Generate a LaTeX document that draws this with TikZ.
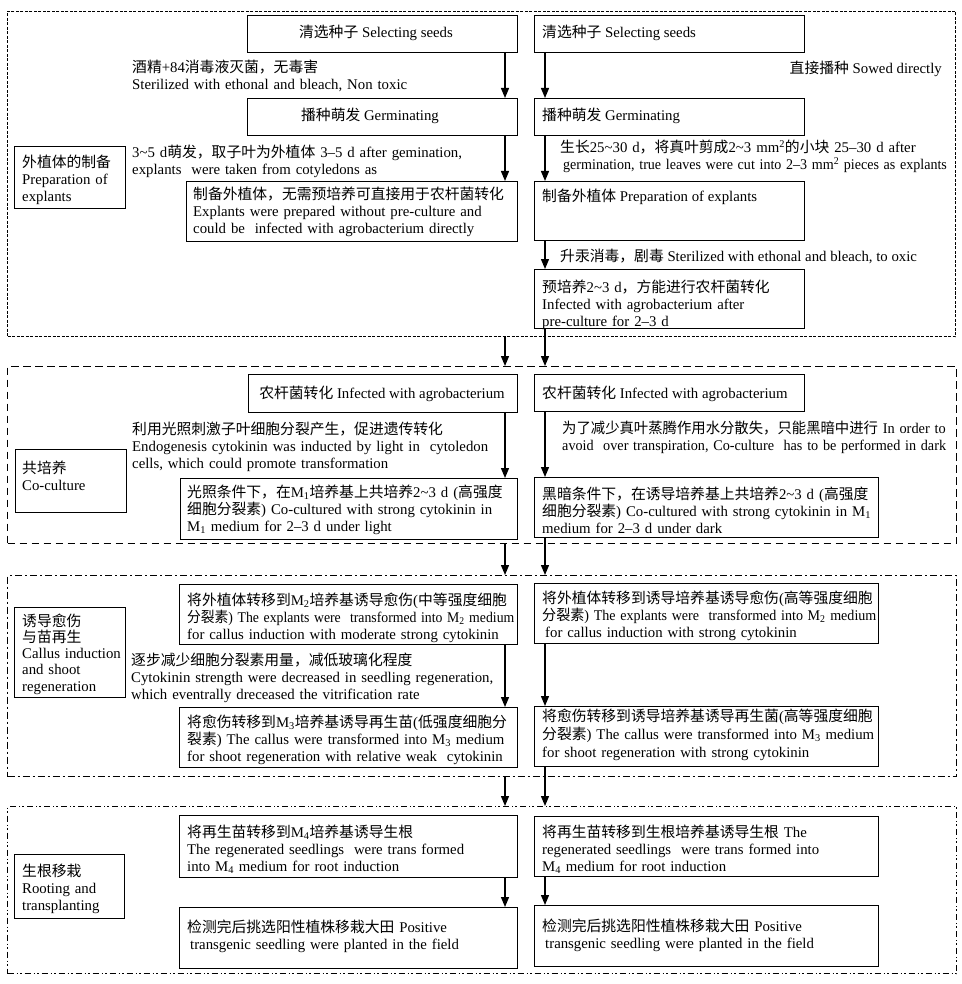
\documentclass[tikz,border=0pt]{standalone}
\usepackage{fontspec}
\usepackage{graphicx}
\setmainfont{Liberation Serif}
\newfontfamily\cjk{Noto Sans CJK SC}
\usetikzlibrary{arrows.meta}
\newcommand\zh[1]{{\cjk #1}}
\newcommand\tld{\textasciitilde}
\newcommand\msub[1]{\textsubscript{#1}}
\newcommand\sq[2]{\scalebox{#1}[1]{#2}}
\begin{document}
\begin{tikzpicture}[x=1pt,y=-1pt,
  font=\fontsize{14.8}{17}\selectfont,
  box/.style={draw, line width=1.4pt, inner sep=0pt, anchor=north west},
  t/.style={inner sep=0pt, anchor=base west},
  tm/.style={inner sep=0pt, anchor=base west, align=left, text width=430pt},
  frameA/.style={draw, line width=1pt, dash pattern=on 3pt off 1.5pt, inner sep=0pt, anchor=north west},
  frameB/.style={draw, line width=1.3pt, dash pattern=on 7.5pt off 4.5pt, inner sep=0pt, anchor=north west},
  frameC/.style={draw, line width=1.3pt, dash pattern=on 7pt off 3pt on 2pt off 3pt, inner sep=0pt, anchor=north west},
  frameD/.style={draw, line width=1.3pt, dash pattern=on 6pt off 3pt on 1.5pt off 2pt on 1.5pt off 3pt, inner sep=0pt, anchor=north west},
  arr/.style={line width=1.3pt, -{Triangle[width=8pt,length=10pt]}}
]
\fill[white] (0,0) rectangle (961,984);
\useasboundingbox (0,0) rectangle (961,984);
\coordinate (la) at (505,0);
\coordinate (ra) at (545,0);

% ---------- Frame 1 ----------
\node[frameA, minimum width=948pt, minimum height=325pt] (F1) at (7,11) {};
\node[box, minimum width=270pt, minimum height=37pt] (L1) at (247,15) {};
\node[box, minimum width=270pt, minimum height=37pt] (R1) at (534,15) {};
\node[box, minimum width=270pt, minimum height=37pt] (L2) at (247,98) {};
\node[box, minimum width=270pt, minimum height=37pt] (R2) at (534,98) {};
\node[box, minimum width=111pt, minimum height=62pt] (P1) at (14,146) {};
\node[box, minimum width=331pt, minimum height=60pt] (L3) at (186,181) {};
\node[box, minimum width=270pt, minimum height=59pt] (R3) at (534,181) {};
\node[box, minimum width=270pt, minimum height=59pt] (R4) at (534,269) {};

\node[inner sep=0pt, anchor=base] (L1t) at (376,38) {\zh{清选种子} Selecting seeds};
\node[t] (R1t) at (542,38) {\zh{清选种子} Selecting seeds};
\node[tm] (lab1) at (132,73) {\zh{酒精}+84\zh{消毒液灭菌，无毒害}\\Sterilized with ethonal and bleach, Non toxic};
\node[inner sep=0pt, anchor=base east] (labR1) at (942,74) {\zh{直接播种} Sowed directly};
\node[inner sep=0pt, anchor=base] (L2t) at (370,121) {\zh{播种萌发} Germinating};
\node[t] (R2t) at (542,121) {\zh{播种萌发} Germinating};
\node[tm] (lab2) at (132,158) {3\tld5 d\zh{萌发，取子叶为外植体} 3--5 d after gemination,\\explants\ \ were taken from cotyledons as};
\node[tm] (labR2) at (560,153) {\zh{生长}25\tld30 d\zh{，将真叶剪成}2\tld3 mm\textsuperscript{2}\zh{的小块} 25--30 d after\\\hspace*{3pt}\sq{0.95}{germination, true leaves were cut into 2--3 mm\textsuperscript{2} pieces as explants}};
\node[tm] (P1t) at (22,168) {\zh{外植体的制备}\\Preparation of\\explants};
\node[tm] (L3t) at (193,200) {\zh{制备外植体，无需预培养可直接用于农杆菌转化}\\Explants were prepared without pre-culture and\\could be\ \ infected with agrobacterium directly};
\node[t] (R3t) at (542,202) {\zh{制备外植体} Preparation of explants};
\node[t] (labR3) at (560,261) {\zh{升汞消毒，剧毒} Sterilized with ethonal and bleach, to oxic};
\node[tm] (R4t) at (542,292) {\zh{预培养}2\tld3 d\zh{，方能进行农杆菌转化}\\Infected with agrobacterium after\\pre-culture for 2--3 d};

% ---------- Frame 2 ----------
\node[frameB, minimum width=949pt, minimum height=177pt] (F2) at (7,366) {};
\node[box, minimum width=111pt, minimum height=63pt] (P2) at (15,449) {};
\node[box, minimum width=269pt, minimum height=38pt] (L5) at (248,374) {};
\node[box, minimum width=337pt, minimum height=61pt] (L6) at (180,478) {};
\node[box, minimum width=270pt, minimum height=37pt] (R5) at (534,374) {};
\node[box, minimum width=344pt, minimum height=60pt] (R6) at (534,477) {};

\node[tm] (P2t) at (22,473) {\zh{共培养}\\Co-culture};
\node[inner sep=0pt, anchor=base] (L5t) at (382,398) {\zh{农杆菌转化} Infected with agrobacterium};
\node[tm] (lab5) at (132,434) {\zh{利用光照刺激子叶细胞分裂产生，促进遗传转化}\\Endogenesis cytokinin was inducted by light in\ \ cytoledon\\cells, which could promote transformation};
\node[tm] (L6t) at (187,497) {\zh{光照条件下，在}M\msub{1}\zh{培养基上共培养}2\tld3 d (\zh{高强度}\\\zh{细胞分裂素}) Co-cultured with strong cytokinin in\\M\msub{1} medium for 2--3 d under light};
\node[t] (R5t) at (542,398) {\zh{农杆菌转化} Infected with agrobacterium};
\node[tm] (labR5) at (562,433) {\sq{0.97}{\zh{为了减少真叶蒸腾作用水分散失，只能黑暗中进行} In order to}\\\sq{0.96}{avoid\ \ over transpiration, Co-culture\ \ has to be performed in dark}};
\node[tm] (R6t) at (542,499) {\zh{黑暗条件下，在诱导培养基上共培养}2\tld3 d (\zh{高强度}\\\zh{细胞分裂素}) Co-cultured with strong cytokinin in M\msub{1}\\medium for 2--3 d under dark};

% ---------- Frame 3 ----------
\node[frameC, minimum width=949pt, minimum height=201pt] (F3) at (7,575) {};
\node[box, minimum width=111pt, minimum height=90pt] (P3) at (14,607) {};
\node[box, minimum width=338pt, minimum height=60pt] (L7) at (179,584) {};
\node[box, minimum width=338pt, minimum height=60pt] (L8) at (179,707) {};
\node[box, minimum width=344pt, minimum height=60pt] (R7) at (534,583) {};
\node[box, minimum width=344pt, minimum height=60pt] (R8) at (534,706) {};

\node[tm, font=\fontsize{14.8}{16.3}\selectfont] (P3t) at (22,626) {\zh{诱导愈伤}\\\zh{与苗再生}\\Callus induction\\and shoot\\regeneration};
\node[tm] (L7t) at (187,605) {\zh{将外植体转移到}M\msub{2}\zh{培养基诱导愈伤}(\zh{中等强度细胞}\\\sq{0.93}{\zh{分裂素}) The explants were\ \ transformed into M\msub{2} medium}\\for callus induction with moderate strong cytokinin};
\node[tm] (lab7) at (131,665) {\zh{逐步减少细胞分裂素用量，减低玻璃化程度}\\Cytokinin strength were decreased in seedling regeneration,\\which eventrally dreceased the vitrification rate};
\node[tm] (L8t) at (187,727) {\zh{将愈伤转移到}M\msub{3}\zh{培养基诱导再生苗}(\zh{低强度细胞分}\\\zh{裂素}) The callus were transformed into M\msub{3} medium\\for shoot regeneration with relative weak\ \ cytokinin};
\node[tm] (R7t) at (542,603) {\zh{将外植体转移到诱导培养基诱导愈伤}(\zh{高等强度细胞}\\\sq{0.95}{\zh{分裂素}) The explants were\ \ transformed into M\msub{2} medium}\\\hspace*{3pt}for callus induction with strong cytokinin};
\node[tm, font=\fontsize{14.8}{18}\selectfont] (R8t) at (542,721) {\zh{将愈伤转移到诱导培养基诱导再生菌}(\zh{高等强度细胞}\\\zh{分裂素}) The callus were transformed into M\msub{3} medium\\for shoot regeneration with strong cytokinin};

% ---------- Frame 4 ----------
\node[frameD, minimum width=949pt, minimum height=167pt] (F4) at (7,806) {};
\node[box, minimum width=110pt, minimum height=64pt] (P4) at (14,854) {};
\node[box, minimum width=338pt, minimum height=62pt] (L9) at (179,815) {};
\node[box, minimum width=338pt, minimum height=61pt] (L10) at (179,907) {};
\node[box, minimum width=344pt, minimum height=60pt] (R9) at (534,816) {};
\node[box, minimum width=344pt, minimum height=61pt] (R10) at (534,905) {};

\node[tm] (P4t) at (22,876) {\zh{生根移栽}\\Rooting and\\transplanting};
\node[tm] (L9t) at (187,837) {\zh{将再生苗转移到}M\msub{4}\zh{培养基诱导生根}\\The regenerated seedlings\ \ were trans formed\\into M\msub{4} medium for root induction};
\node[tm] (L10t) at (187,932) {\zh{检测完后挑选阳性植株移栽大田} Positive\\\hspace*{3pt}transgenic seedling were planted in the field};
\node[tm] (R9t) at (542,837) {\zh{将再生苗转移到生根培养基诱导生根} The\\regenerated seedlings\ \ were trans formed into\\M\msub{4} medium for root induction};
\node[tm] (R10t) at (542,931) {\zh{检测完后挑选阳性植株移栽大田} Positive\\\hspace*{3pt}transgenic seedling were planted in the field};

% ---------- Arrows ----------
\draw[arr] (L1.south -| la) -- (L2.north -| la);
\draw[arr] (L2.south -| la) -- (L3.north -| la);
\draw[arr] (R1.south -| ra) -- (R2.north -| ra);
\draw[arr] (R2.south -| ra) -- (R3.north -| ra);
\draw[arr] (R3.south -| ra) -- (R4.north -| ra);
\draw[arr] (F1.south -| la) -- (F2.north -| la);
\draw[arr] (R4.south -| ra) -- (F2.north -| ra);
\draw[arr] (L5.south -| la) -- (L6.north -| la);
\draw[arr] (R5.south -| ra) -- (R6.north -| ra);
\draw[arr] (F2.south -| la) -- (F3.north -| la);
\draw[arr] (R6.south -| ra) -- (F3.north -| ra);
\draw[arr] (L7.south -| la) -- (L8.north -| la);
\draw[arr] (R7.south -| ra) -- (R8.north -| ra);
\draw[arr] (F3.south -| la) -- (F4.north -| la);
\draw[arr] (R8.south -| ra) -- (F4.north -| ra);
\draw[arr] (L9.south -| la) -- (L10.north -| la);
\draw[arr] (R9.south -| ra) -- (R10.north -| ra);
\end{tikzpicture}
\end{document}
